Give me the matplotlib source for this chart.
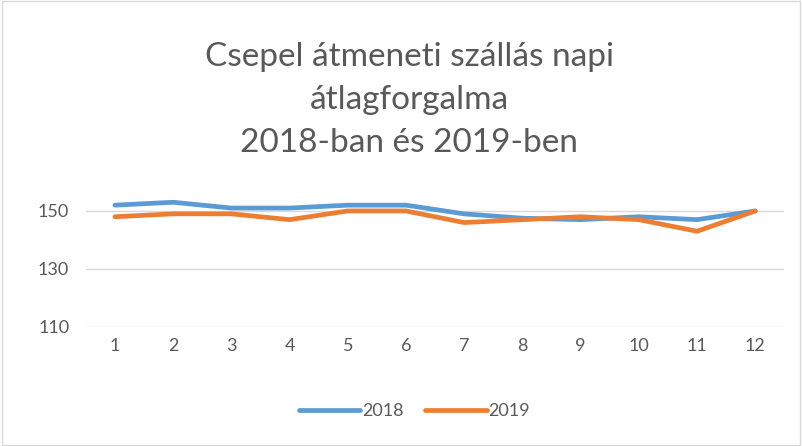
import matplotlib.pyplot as plt
import numpy as np

plt.rcParams['font.family'] = ['Lato', 'DejaVu Sans']

months = [1, 2, 3, 4, 5, 6, 7, 8, 9, 10, 11, 12]
traffic_2018 = [152, 153, 151, 151, 152, 152, 149, 147.5, 147, 148, 147, 150]
traffic_2019 = [148, 149, 149, 147, 150, 150, 146, 147, 148, 147, 143, 150]
y_ticks = [110, 130, 150]

fig = plt.figure(figsize=(8.02, 4.46), dpi=100)
ax = fig.add_axes([0.107, 0.267, 0.871, 0.325])

ax.plot(months, traffic_2018, color="#5B9BD5", linewidth=3.4, label="2018",
        solid_capstyle="round", solid_joinstyle="round")
ax.plot(months, traffic_2019, color="#ED7D31", linewidth=3.4, label="2019",
        solid_capstyle="round", solid_joinstyle="round")

ax.set_xlim(0.5, 12.5)
ax.set_ylim(110, 160)
ax.set_yticks(y_ticks)
ax.set_xticks(months)
ax.grid(axis="y", color="#D9D9D9", linewidth=1)
ax.set_axisbelow(True)
for s in ax.spines.values():
    s.set_visible(False)
ax.tick_params(length=0, labelsize=13, colors="#595959", pad=8)
ax.tick_params(axis="y", pad=12)

fig.text(0.51, 0.776, "Csepel átmeneti szállás napi\nátlagforgalma\n2018-ban és 2019-ben",
         ha="center", va="center", fontsize=24, color="#595959", linespacing=1.55)

leg = fig.legend(loc="center", bbox_to_anchor=(0.517, 0.078), ncol=2, frameon=False,
                 fontsize=13, handlelength=3.4, columnspacing=1.2, handletextpad=0.1)
for t in leg.get_texts():
    t.set_color("#595959")

fig.patches.append(plt.Rectangle((0.002, 0.003), 0.996, 0.994, transform=fig.transFigure,
                                 fill=False, edgecolor="#D9D9D9", linewidth=1))

fig.savefig("out.png", dpi=100)
